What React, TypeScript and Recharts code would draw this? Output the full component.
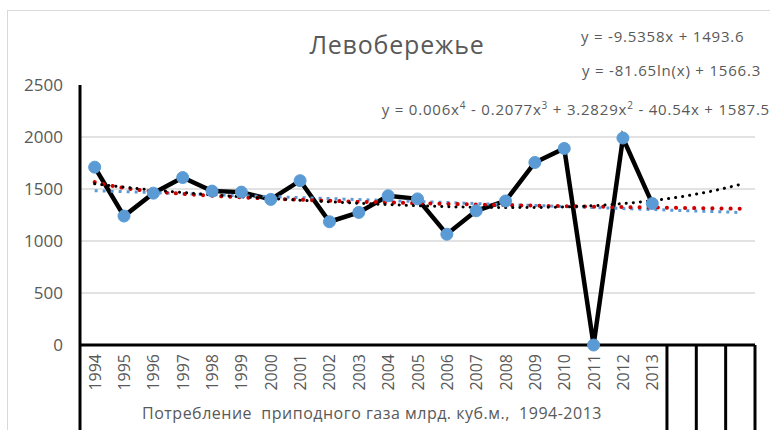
import { LineChart, Line, XAxis, YAxis, CartesianGrid } from 'recharts'

const years = ['1994', '1995', '1996', '1997', '1998', '1999', '2000', '2001', '2002', '2003', '2004', '2005', '2006', '2007', '2008', '2009', '2010', '2011', '2012', '2013', '', '', '']
const consumption = [1710, 1240, 1460, 1610, 1480, 1470, 1400, 1580, 1185, 1275, 1435, 1405, 1065, 1290, 1385, 1755, 1890, 0, 1990, 1360]
const linearTrend = [1484, 1475, 1465, 1455, 1446, 1436, 1427, 1417, 1408, 1398, 1389, 1379, 1370, 1360, 1351, 1341, 1332, 1322, 1312, 1303, 1293, 1284, 1274]
const logTrend = [1566, 1510, 1477, 1453, 1435, 1420, 1407, 1397, 1387, 1378, 1371, 1363, 1357, 1351, 1345, 1340, 1335, 1330, 1326, 1322, 1318, 1314, 1310]
const polyTrend = [1550, 1518, 1490, 1466, 1445, 1425, 1408, 1392, 1377, 1363, 1350, 1339, 1330, 1324, 1321, 1322, 1328, 1340, 1360, 1388, 1427, 1478, 1544]
const yTicks = [0, 500, 1000, 1500, 2000, 2500]
const gridValues = [500, 1000, 1500, 2000]

const data = years.map((year, i) => ({
  year,
  value: i < consumption.length ? consumption[i] : null,
  linear: linearTrend[i],
  log: logTrend[i],
  poly: polyTrend[i],
}))

const W = 770
const H = 430
const PLOT_LEFT = 80
const PLOT_RIGHT = 755
const AXIS_Y = 345
const HALF_BAND = (PLOT_RIGHT - PLOT_LEFT) / years.length / 2
const TEXT = '#595959'
const FONT = 'Open Sans, sans-serif'

function YearTick({ x, payload, index }: { x: number; payload: { value: string }; index: number }) {
  return (
    <g>
      {payload.value && (
        <text x={0} y={0} transform={`translate(${x + 6},${AXIS_Y + 9}) rotate(-90)`} textAnchor="end"
          fontSize={16} fill={TEXT} fontFamily={FONT}>{payload.value}</text>
      )}
      {index === 0 && <line x1={x - HALF_BAND} x2={x - HALF_BAND} y1={AXIS_Y} y2={H} stroke="#000" strokeWidth={3} />}
      {index >= 19 && <line x1={x + HALF_BAND} x2={x + HALF_BAND} y1={AXIS_Y} y2={H} stroke="#000" strokeWidth={3} />}
    </g>
  )
}

const eqStyle = { position: 'absolute' as const, fontSize: 15, letterSpacing: 0.8, lineHeight: '20px', color: TEXT, whiteSpace: 'pre' as const }
const sup = { fontSize: 10 }

export default function App() {
  return (
    <div style={{ position: 'absolute', left: 0, top: 0, width: W, height: H, background: '#fff', overflow: 'hidden', fontFamily: FONT }}>
      <div style={{ position: 'absolute', left: 7, top: 10, width: W, height: H, borderLeft: '1px solid #D9D9D9', borderTop: '1px solid #D9D9D9' }} />
      <LineChart width={W} height={H} data={data} margin={{ top: 85, right: W - PLOT_RIGHT, bottom: 0, left: 10 }}>
        <CartesianGrid vertical={false} horizontalValues={gridValues} stroke="#D9D9D9" strokeWidth={1.5} />
        <XAxis dataKey="year" interval={0} height={H - AXIS_Y} tickLine={false}
          axisLine={{ stroke: '#000', strokeWidth: 3 }} padding={{ left: HALF_BAND, right: HALF_BAND }}
          tick={(props: any) => <YearTick {...props} />} />
        <YAxis domain={[0, 2500]} ticks={yTicks} width={70} tickLine={false} tickMargin={11}
          axisLine={{ stroke: '#000', strokeWidth: 3 }}
          tick={{ fontSize: 17, fill: TEXT, fontFamily: FONT }} />
        <Line dataKey="value" type="linear" stroke="#000" strokeWidth={4.5} isAnimationActive={false}
          dot={{ r: 6, fill: '#5B9BD5', stroke: '#5B9BD5', strokeWidth: 1 }} activeDot={false} />
        <Line dataKey="linear" type="linear" stroke="#5B9BD5" strokeWidth={3} strokeDasharray="3 5"
          dot={false} activeDot={false} isAnimationActive={false} />
        <Line dataKey="log" type="monotone" stroke="#D00000" strokeWidth={4} strokeDasharray="0.1 9" strokeLinecap="round"
          dot={false} activeDot={false} isAnimationActive={false} />
        <Line dataKey="poly" type="monotone" stroke="#000" strokeWidth={3} strokeDasharray="0.1 7" strokeLinecap="round"
          dot={false} activeDot={false} isAnimationActive={false} />
      </LineChart>
      <div style={{ position: 'absolute', left: 397, top: 29, transform: 'translateX(-50%)', fontSize: 25, letterSpacing: 0.8, lineHeight: '30px', color: TEXT, whiteSpace: 'nowrap' }}>
        Левобережье
      </div>
      <div style={{ ...eqStyle, left: 581, top: 26 }}>
        y = -9.5358x + 1493.6
      </div>
      <div style={{ ...eqStyle, left: 582, top: 60 }}>
        y = -81.65ln(x) + 1566.3
      </div>
      <div style={{ ...eqStyle, right: 0, top: 95 }}>
        y = 0.006x<sup style={sup}>4</sup> - 0.2077x<sup style={sup}>3</sup> + 3.2829x<sup style={sup}>2</sup> - 40.54x + 1587.5
      </div>
      <div style={{ position: 'absolute', left: 372, top: 402, transform: 'translateX(-50%)', fontSize: 16, letterSpacing: 0.5, lineHeight: '22px', color: TEXT, whiteSpace: 'pre' }}>
        Потребление  приподного газа млрд. куб.м.,  1994-2013
      </div>
    </div>
  )
}
